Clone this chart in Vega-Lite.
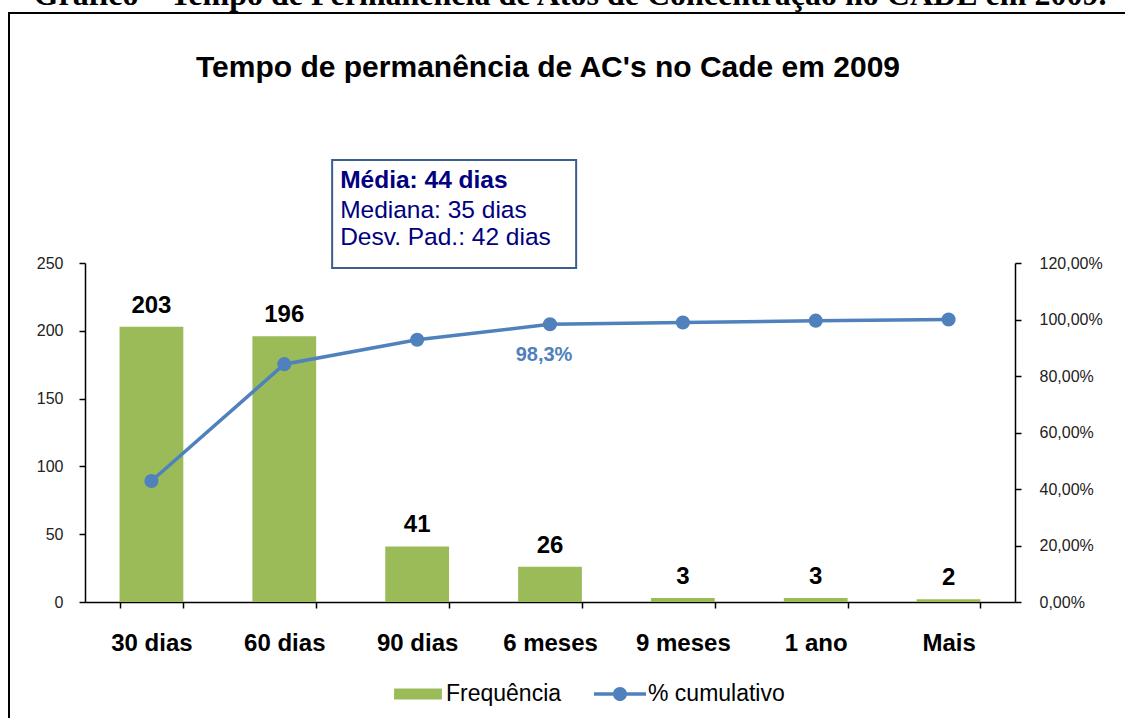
{
  "$schema": "https://vega.github.io/schema/vega-lite/v6.json",
  "autosize": "none",
  "width": 1122,
  "height": 715,
  "padding": {"left": 9, "top": 13, "right": -6, "bottom": -10},
  "background": "white",
  "title": {
    "text": "Gráfico – Tempo de Permanência de Atos de Concentração no CADE em 2009.",
    "anchor": "middle",
    "frame": "group",
    "font": "Liberation Serif",
    "fontSize": 32,
    "fontWeight": "bold",
    "color": "black",
    "offset": 1
  },
  "data": {
    "values": [
      {"cat": "30 dias", "freq": 203, "cum": 0.4283},
      {"cat": "60 dias", "freq": 196, "cum": 0.8418},
      {"cat": "90 dias", "freq": 41, "cum": 0.9283},
      {"cat": "6 meses", "freq": 26, "cum": 0.9831},
      {"cat": "9 meses", "freq": 3, "cum": 0.9895},
      {"cat": "1 ano", "freq": 3, "cum": 0.9958},
      {"cat": "Mais", "freq": 2, "cum": 1.0}
    ]
  },
  "encoding": {
    "x": {
      "field": "cat",
      "type": "nominal",
      "sort": null,
      "scale": {
        "type": "band",
        "domain": ["30 dias", "60 dias", "90 dias", "6 meses", "9 meses", "1 ano", "Mais"],
        "range": [76, 1006],
        "paddingInner": 0.52,
        "paddingOuter": 0.26
      },
      "axis": {
        "title": null,
        "orient": "bottom",
        "offset": -126,
        "tickBand": "extent",
        "tickSize": 6,
        "labelAngle": 0,
        "labelFontSize": 24,
        "labelFontWeight": "bold",
        "labelPadding": 23,
        "labelColor": "black"
      }
    }
  },
  "layer": [
    {
      "layer": [
        {
          "mark": {"type": "bar"},
          "encoding": {
            "y": {
              "field": "freq",
              "type": "quantitative",
              "scale": {"domain": [0, 250], "range": [589, 250], "nice": false, "zero": true},
              "axis": {
                "title": null,
                "orient": "left",
                "offset": -76,
                "values": [0, 50, 100, 150, 200, 250],
                "grid": false,
                "tickSize": 6,
                "labelPadding": 16,
                "labelFontSize": 16,
                "labelColor": "#222"
              }
            },
            "color": {
              "datum": "Frequência",
              "scale": {"domain": ["Frequência"], "range": ["#9BBB59"]},
              "legend": {
                "title": null,
                "orient": "none",
                "legendX": 383,
                "legendY": 655,
                "symbolType": "M-0.92,-0.21H0.92V0.21H-0.92Z",
                "symbolSize": 2704,
                "symbolStrokeWidth": 0,
                "labelFontSize": 23,
                "labelColor": "black",
                "labelOffset": 2,
                "encoding": {
                  "symbols": {
                    "fill": {"value": "#9BBB59"},
                    "stroke": {"value": "transparent"},
                    "size": {"value": 2704},
                    "opacity": {"value": 1}
                  }
                }
              }
            }
          }
        },
        {
          "mark": {"type": "text", "fontSize": 24, "fontWeight": "bold", "color": "black", "baseline": "alphabetic", "dy": -14},
          "encoding": {
            "y": {"field": "freq", "type": "quantitative"},
            "text": {"field": "freq", "type": "quantitative"}
          }
        },
        {
          "data": {"values": [{}]},
          "mark": {"type": "text", "text": "Tempo de permanência de AC's no Cade em 2009", "align": "center", "baseline": "middle", "xOffset": -2, "fontSize": 30, "fontWeight": "bold", "color": "black"},
          "encoding": {
            "x": {"datum": "6 meses"},
            "y": {"datum": 393.8, "type": "quantitative"}
          }
        },
        {
          "data": {"values": [{}]},
          "mark": {"type": "bar", "width": 244, "xOffset": 37, "fill": "white", "stroke": "#3A5F8E", "strokeWidth": 2},
          "encoding": {
            "x": {"datum": "90 dias"},
            "y": {"datum": 326, "type": "quantitative"},
            "y2": {"datum": 246.3}
          }
        },
        {
          "data": {"values": [{}]},
          "mark": {"type": "text", "text": "Média: 44 dias", "align": "left", "baseline": "middle", "xOffset": -77, "fontSize": 24.5, "fontWeight": "bold", "color": "#000080"},
          "encoding": {
            "x": {"datum": "90 dias"},
            "y": {"datum": 310.5, "type": "quantitative"}
          }
        },
        {
          "data": {"values": [{}]},
          "mark": {"type": "text", "text": "Mediana: 35 dias", "align": "left", "baseline": "middle", "xOffset": -77, "fontSize": 24.5, "color": "#000080"},
          "encoding": {
            "x": {"datum": "90 dias"},
            "y": {"datum": 288.3, "type": "quantitative"}
          }
        },
        {
          "data": {"values": [{}]},
          "mark": {"type": "text", "text": "Desv. Pad.: 42 dias", "align": "left", "baseline": "middle", "xOffset": -77, "fontSize": 24.5, "color": "#000080"},
          "encoding": {
            "x": {"datum": "90 dias"},
            "y": {"datum": 268.8, "type": "quantitative"}
          }
        }
      ]
    },
    {
      "layer": [
        {
          "mark": {"type": "line", "strokeWidth": 3.5},
          "encoding": {
            "y": {
              "field": "cum",
              "type": "quantitative",
              "scale": {"domain": [0, 1.2], "range": [589, 250], "nice": false, "zero": true},
              "axis": {
                "title": null,
                "orient": "right",
                "offset": -116,
                "values": [0, 0.2, 0.4, 0.6, 0.8, 1.0, 1.2],
                "format": ".2%",
                "grid": false,
                "tickSize": 6,
                "labelPadding": 18,
                "labelFontSize": 16,
                "labelColor": "#222"
              }
            },
            "stroke": {
              "datum": "% cumulativo",
              "scale": {"domain": ["% cumulativo"], "range": ["#4F81BD"]},
              "legend": {
                "title": null,
                "orient": "none",
                "legendX": 585,
                "legendY": 655,
                "symbolType": "M-1,-0.07H1V0.07H-1Z M0.27,0A0.27,0.27,0,1,1,-0.27,0A0.27,0.27,0,1,1,0.27,0Z",
                "symbolSize": 2704,
                "symbolStrokeWidth": 0,
                "labelFontSize": 23,
                "labelColor": "black",
                "labelOffset": 2,
                "encoding": {
                  "symbols": {
                    "fill": {"value": "#4F81BD"},
                    "stroke": {"value": "transparent"},
                    "size": {"value": 2704},
                    "opacity": {"value": 1}
                  }
                }
              }
            }
          }
        },
        {
          "mark": {"type": "point", "filled": true, "size": 200, "opacity": 1, "color": "#4F81BD"},
          "encoding": {
            "y": {"field": "cum", "type": "quantitative"}
          }
        },
        {
          "transform": [{"filter": "datum.cat === '6 meses'"}],
          "mark": {"type": "text", "fontSize": 20, "fontWeight": "bold", "color": "#4F81BD", "baseline": "alphabetic", "dx": -6, "dy": 37},
          "encoding": {
            "y": {"field": "cum", "type": "quantitative"},
            "text": {"field": "cum", "type": "quantitative", "format": ".1%"}
          }
        }
      ]
    }
  ],
  "resolve": {"scale": {"y": "independent"}},
  "config": {
    "font": "Liberation Sans",
    "locale": {"number": {"decimal": ",", "thousands": ".", "grouping": [3], "currency": ["R$", ""]}},
    "view": {"stroke": "black", "strokeWidth": 2},
    "axis": {
      "domainColor": "black",
      "domainWidth": 1.5,
      "tickColor": "black",
      "tickWidth": 1.5,
      "labelFont": "Liberation Sans"
    },
    "legend": {"labelFont": "Liberation Sans"}
  }
}
